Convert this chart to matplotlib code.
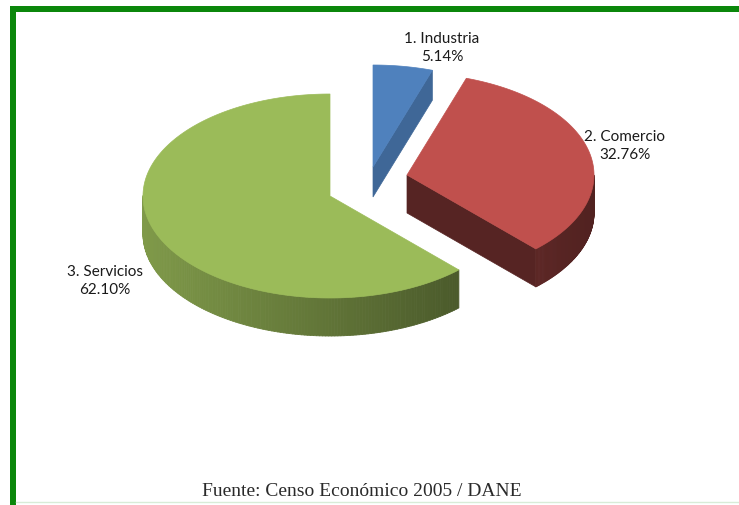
import numpy as np
import matplotlib.pyplot as plt
from matplotlib.patches import Polygon, Rectangle
from matplotlib.collections import PolyCollection
from matplotlib.colors import to_rgb

# Datos del grafico (Censo Economico 2005)
sectores = ['1. Industria', '2. Comercio', '3. Servicios']
porcentajes = [5.14, 32.76, 62.10]
fuente = 'Fuente: Censo Económico 2005 / DANE'

# Estilo
colores = ['#4f81bd', '#c0504d', '#9bbb59']
sombra_cara = [0.80, 0.45, 0.60]
desplaz = [(43, -29), (77, -21), (0, 0)]      # explosion de cada porcion (px)
grosor = [30, 38, 38]
pos_texto = [(442, 48), (625, 146), (105, 281)]

W, H = 739, 506
cx, cy = 330, 197      # centro de la torta
a, b = 187, 102        # semiejes de la elipse


def pt(ox, oy, th, dy=0):
    return (cx + ox + a * np.cos(th), cy + oy - b * np.sin(th) + dy)


def oscurecer(c, f):
    r, g, bl = to_rgb(c)
    return (min(r * f, 1), min(g * f, 1), min(bl * f, 1))


def main():
    fig = plt.figure(figsize=(W / 100, H / 100), dpi=100)
    ax = fig.add_axes([0, 0, 1, 1])
    ax.set_xlim(0, W)
    ax.set_ylim(H, 0)
    ax.axis('off')

    # marco verde
    ax.add_patch(Rectangle((10, 7), W, 6, color='#0b870b', lw=0))
    ax.add_patch(Rectangle((10, 7), 6, H, color='#0b870b', lw=0))
    ax.plot([16, W], [503, 503], color='#d8ecd8', lw=1)

    total = sum(porcentajes)
    ini = np.pi / 2
    for i, v in enumerate(porcentajes):
        fin = ini - 2 * np.pi * v / total
        ox, oy = desplaz[i]
        h = grosor[i]
        col = colores[i]
        ap = (cx + ox, cy + oy)

        # caras radiales visibles
        for ang, normal in ((ini, ini + np.pi / 2), (fin, fin - np.pi / 2)):
            if np.sin(normal) < -1e-6:
                p = pt(ox, oy, ang)
                quad = [ap, p, (p[0], p[1] + h), (ap[0], ap[1] + h)]
                ax.add_patch(Polygon(quad, closed=True,
                                     facecolor=oscurecer(col, sombra_cara[i]),
                                     edgecolor=oscurecer(col, sombra_cara[i]), lw=0.5))

        # pared exterior (solo la parte frontal)
        ts = np.linspace(ini, fin, 240)
        quads, cols = [], []
        for t0, t1 in zip(ts[:-1], ts[1:]):
            tm = (t0 + t1) / 2
            if np.sin(tm) >= 0:
                continue
            p0, p1 = pt(ox, oy, t0), pt(ox, oy, t1)
            quads.append([p0, p1, (p1[0], p1[1] + h), (p0[0], p0[1] + h)])
            cols.append(oscurecer(col, 0.62 - 0.2 * np.cos(tm)))
        if quads:
            ax.add_collection(PolyCollection(quads, facecolors=cols,
                                             edgecolors=cols, lw=0.6))

        # cara superior
        arco = [pt(ox, oy, t) for t in np.linspace(ini, fin, 200)]
        ax.add_patch(Polygon([ap] + arco, closed=True, facecolor=col,
                             edgecolor=col, lw=0.5))

        tx, ty = pos_texto[i]
        ax.text(tx, ty, f'{sectores[i]}\n{v:.2f}%', ha='center', va='center',
                fontsize=11, family='Lato', color='#1a1a1a', linespacing=1.45)
        ini = fin

    ax.text(362, 492, fuente, ha='center', va='center', fontsize=14,
            family='Liberation Serif', color='#2a2a2a')

    fig.savefig('out.png', dpi=100)


if __name__ == '__main__':
    main()
